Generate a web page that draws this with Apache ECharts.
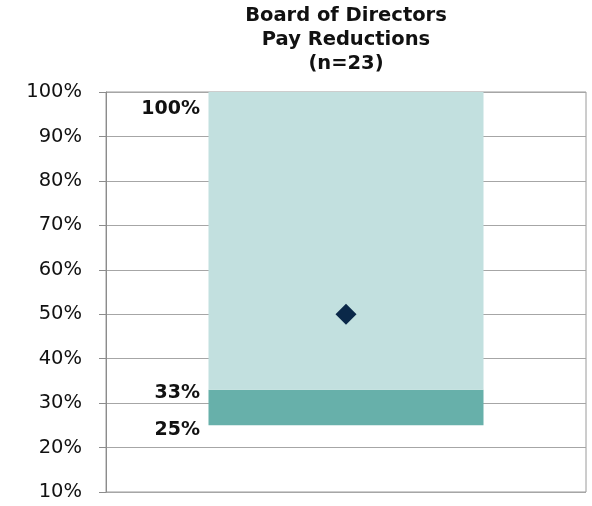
<!DOCTYPE html>
<html>
<head>
<meta charset="utf-8">
<style>html,body{margin:0;padding:0;background:#fff}#chart{width:592px;height:506px}</style>
<script src="https://cdn.jsdelivr.net/npm/echarts@6/dist/echarts.min.js"></script>
</head>
<body>
<div id="chart"></div>
<script>
const titleLines = ['Board of Directors', 'Pay Reductions', '(n=23)'];
const categories = ['Board of Directors'];
const lowValues = [25];
const highValues = [33];
const maxValues = [100];
const averageValues = [50];
const yMin = 10, yMax = 100, yStep = 10;

const FONT = 'DejaVu Sans';
const chart = echarts.init(document.getElementById('chart'));

const baseSeg = lowValues;
const midSeg = highValues.map((v, i) => v - lowValues[i]);
const topSeg = maxValues.map((v, i) => v - highValues[i]);

const lbl = (texts, dy) => ({
  show: true,
  position: [-8.5, dy],
  align: 'right',
  verticalAlign: 'middle',
  fontFamily: FONT,
  fontWeight: 'bold',
  fontSize: 19,
  color: '#111',
  formatter: p => texts[p.dataIndex] + '%'
});

chart.setOption({
  animation: false,
  graphic: [{
    type: 'text',
    x: 346,
    y: 4,
    style: {
      text: titleLines.join('\n'),
      textAlign: 'center',
      font: 'bold 19.5px "DejaVu Sans"',
      lineHeight: 24,
      fill: '#111'
    }
  }],
  grid: {
    left: 106, right: 6, top: 92, bottom: 14,
    show: true, borderColor: '#9a9a9a', borderWidth: 1, backgroundColor: 'transparent'
  },
  xAxis: {
    type: 'category',
    data: categories,
    axisLine: { show: false },
    axisTick: { show: false },
    axisLabel: { show: false }
  },
  yAxis: {
    type: 'value',
    min: yMin, max: yMax, interval: yStep,
    axisLine: { show: true, lineStyle: { color: '#8c8c8c', width: 1 } },
    axisTick: { show: true, length: 7, lineStyle: { color: '#8c8c8c' } },
    splitLine: { show: true, lineStyle: { color: '#a6a6a6', width: 1 } },
    axisLabel: {
      margin: 24,
      fontFamily: FONT,
      fontSize: 19.5,
      color: '#111',
      formatter: '{value}%'
    }
  },
  series: [
    {
      type: 'bar', stack: 'box', barWidth: 275, data: baseSeg, zlevel: 1,
      itemStyle: { color: 'rgba(0,0,0,0)', opacity: 1 },
      label: lbl(lowValues, 4.7), silent: true
    },
    {
      type: 'bar', stack: 'box', barWidth: 275, data: midSeg, zlevel: 1,
      itemStyle: { color: '#67b0aa', opacity: 1 },
      label: lbl(highValues, 3.2)
    },
    {
      type: 'bar', stack: 'box', barWidth: 275, data: topSeg, zlevel: 1,
      itemStyle: { color: '#c2e0df', opacity: 1 },
      label: lbl(maxValues, 17)
    },
    {
      type: 'scatter', data: averageValues, symbol: 'diamond', symbolSize: 21,
      itemStyle: { color: '#0a2849', opacity: 1 }, zlevel: 1, z: 6
    }
  ]
});
</script>
</body>
</html>
